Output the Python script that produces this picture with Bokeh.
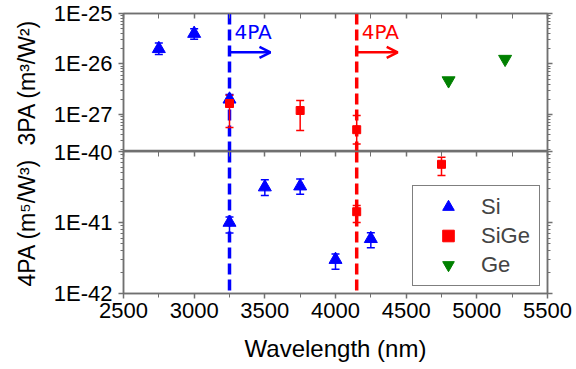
from bokeh.plotting import figure
from bokeh.models import (Range1d, FixedTicker, CustomJSTickFormatter, LinearAxis, LogAxis,
                          Span, Arrow, OpenHead, Label, Whisker, TeeHead, ColumnDataSource,
                          Legend, LegendItem)
from bokeh.layouts import column
from bokeh.embed import file_html
from bokeh.resources import INLINE

# ---------------- data ----------------
si3_wl = [2750, 3000, 3250]
si3_val = [2.0e-26, 4.0e-26, 2.0e-27]
si3_lo = [1.55e-26, 3.1e-26, 1.6e-27]
si3_hi = [2.6e-26, 5.0e-26, 2.5e-27]

sige3_wl = [3250, 3750, 4150]
sige3_val = [1.65e-27, 1.2e-27, 5.0e-28]
sige3_lo = [5.5e-28, 4.8e-28, 2.6e-28]
sige3_hi = [2.4e-27, 1.9e-27, 9.5e-28]

ge3_wl = [4800, 5200]
ge3_val = [4.7e-27, 1.25e-26]

si4_wl = [3250, 3500, 3750, 4000, 4250]
si4_val = [1.0e-41, 3.15e-41, 3.25e-41, 3.0e-42, 5.9e-42]
si4_lo = [7.1e-42, 2.4e-41, 2.5e-41, 2.2e-42, 4.4e-42]
si4_hi = [1.2e-41, 4.0e-41, 4.1e-41, 3.6e-42, 7.2e-42]

sige4_wl = [4150, 4750]
sige4_val = [1.42e-41, 6.6e-41]
sige4_lo = [1.0e-41, 4.6e-41]
sige4_hi = [1.74e-41, 8.3e-41]

legend_labels = ["Si", "SiGe", "Ge"]

threshold_wl = [3250, 4150]
threshold_colors = ["#0000FF", "#FF0000"]
arrow_end_wl = [3540, 4440]
arrow_y = 1.7e-26
label_y = 4.3e-26
label_text = "4PA"

x_major = [2500, 3000, 3500, 4000, 4500, 5000, 5500]
x_minor = [2750, 3250, 3750, 4250, 4750, 5250]
y3_major = [1e-25, 1e-26, 1e-27]
y4_major = [1e-40, 1e-41, 1e-42]
y3_range = (1.85e-28, 1e-25)
y4_range = (1e-42, 1e-40)
x_range = (2500, 5500)

BLUE, RED, GREEN = "#0000FF", "#FF0000", "#008000"
AX = "#707070"
FONT = "Liberation Sans"


def log_minor(majors):
    out = []
    for m in majors:
        for k in range(2, 10):
            out.append(m * k)
    return out


fmt = CustomJSTickFormatter(code="return '1E' + Math.round(Math.log10(tick));")


def style(ax, labels, tin=0, tout=5, min_in=0, min_out=3):
    ax.axis_line_color = AX
    ax.axis_line_width = 1.5
    ax.major_tick_line_color = AX
    ax.minor_tick_line_color = AX
    ax.major_tick_line_width = 1.5
    ax.minor_tick_line_width = 1
    ax.major_tick_in = tin
    ax.major_tick_out = tout
    ax.minor_tick_in = min_in
    ax.minor_tick_out = min_out
    if labels:
        ax.major_label_text_font = FONT
        ax.major_label_text_color = "black"
        ax.axis_label_text_color = "black"
    else:
        ax.formatter = CustomJSTickFormatter(code="return '';")
        ax.major_label_text_font_size = "1px"
        ax.major_label_standoff = 0
        ax.axis_label = None


xr = Range1d(*x_range)

# ---------------- top panel (3PA) ----------------
top = figure(width=576, height=151, x_range=xr, y_range=Range1d(*y3_range),
             y_axis_type="log", x_axis_location=None, output_backend="svg",
             toolbar_location=None, min_border_left=123, min_border_right=29,
             min_border_top=13, min_border_bottom=0)
top.outline_line_color = AX
top.outline_line_width = 1.5
top.grid.visible = False

yl = top.left[0]
yl.ticker = FixedTicker(ticks=y3_major, minor_ticks=log_minor(y3_major + [1e-28]))
yl.formatter = fmt
style(yl, True)
yl.major_label_text_font_size = "22px"
yl.major_label_standoff = 6
yl.axis_label = "3PA (m³/W²)"
yl.axis_label_text_font = FONT
yl.axis_label_text_font_size = "23px"
yl.axis_label_text_font_style = "normal"
yl.axis_label_standoff = 11

yr = LogAxis(ticker=FixedTicker(ticks=y3_major, minor_ticks=log_minor(y3_major + [1e-28])))
style(yr, False)
top.add_layout(yr, "right")

xt = LinearAxis(ticker=FixedTicker(ticks=x_major, minor_ticks=x_minor))
style(xt, False, tin=5, tout=0, min_in=5, min_out=0)
top.add_layout(xt, "above")

# ---------------- bottom panel (4PA) ----------------
bot = figure(width=576, height=230, x_range=xr, y_range=Range1d(*y4_range),
             y_axis_type="log", output_backend="svg", toolbar_location=None,
             min_border_left=123, min_border_right=29, min_border_top=12,
             min_border_bottom=76)
bot.border_fill_color = None
bot.outline_line_color = AX
bot.outline_line_width = 1.5
bot.grid.visible = False
bot.styles = {"margin-top": "-12px"}

yl4 = bot.left[0]
yl4.ticker = FixedTicker(ticks=y4_major, minor_ticks=log_minor(y4_major))
yl4.formatter = fmt
style(yl4, True)
yl4.major_label_text_font_size = "22px"
yl4.major_label_standoff = 6
yl4.axis_label = "4PA (m⁵/W³)"
yl4.axis_label_text_font = FONT
yl4.axis_label_text_font_size = "23px"
yl4.axis_label_text_font_style = "normal"
yl4.axis_label_standoff = 11

xb = bot.below[0]
xb.ticker = FixedTicker(ticks=x_major, minor_ticks=x_minor)
style(xb, True, tin=0, tout=5, min_in=0, min_out=4)
xb.major_label_text_font_size = "22px"
xb.major_label_standoff = 4
xb.axis_label = "Wavelength (nm)"
xb.axis_label_text_font = FONT
xb.axis_label_text_font_size = "24px"
xb.axis_label_text_font_style = "normal"
xb.axis_label_standoff = 14

yr4 = LogAxis(ticker=FixedTicker(ticks=y4_major, minor_ticks=log_minor(y4_major)))
style(yr4, False)
bot.add_layout(yr4, "right")

xa4 = LinearAxis(ticker=FixedTicker(ticks=x_major, minor_ticks=x_minor))
style(xa4, False, tin=5, tout=0, min_in=5, min_out=0)
bot.add_layout(xa4, "above")

# ---------------- threshold lines & annotations ----------------
for p in (top, bot):
    for wl, c in zip(threshold_wl, threshold_colors):
        p.add_layout(Span(location=wl, dimension="height", line_color=c,
                          line_width=3.5, line_dash="11 5", level="underlay"))

for wl, we, c in zip(threshold_wl, arrow_end_wl, threshold_colors):
    top.add_layout(Arrow(end=OpenHead(size=11, line_color=c, line_width=2.5),
                         x_start=wl, y_start=arrow_y, x_end=we, y_end=arrow_y,
                         line_color=c, line_width=2.5))
    top.add_layout(Label(x=wl, y=label_y, x_offset=5, text=label_text, text_color=c,
                         text_font="DejaVu Sans", text_font_size="20px",
                         text_baseline="alphabetic", text_align="left"))


# ---------------- data glyphs ----------------
def add_series(p, wl, val, lo, hi, marker, color, size, visible=True):
    data = dict(x=wl, y=val)
    if lo is not None:
        data["lo"] = lo
        data["hi"] = hi
    src = ColumnDataSource(data=data)
    if lo is not None:
        p.add_layout(Whisker(source=src, base="x", lower="lo", upper="hi",
                             dimension="height", line_color=color, line_width=1.5,
                             level="underlay",
                             upper_head=TeeHead(size=8, line_color=color, line_width=1.5),
                             lower_head=TeeHead(size=8, line_color=color, line_width=1.5)))
    return p.scatter("x", "y", source=src, marker=marker, size=size,
                     fill_color=color, line_color=color, visible=visible)


add_series(top, si3_wl, si3_val, si3_lo, si3_hi, "triangle", BLUE, 13)
add_series(top, sige3_wl, sige3_val, sige3_lo, sige3_hi, "square", RED, 8)
add_series(top, ge3_wl, ge3_val, None, None, "inverted_triangle", GREEN, 13)

r_si = add_series(bot, si4_wl, si4_val, si4_lo, si4_hi, "triangle", BLUE, 13)
r_sige = add_series(bot, sige4_wl, sige4_val, sige4_lo, sige4_hi, "square", RED, 8)
# Ge has no 4PA data: a hidden renderer only supplies the legend swatch
r_ge = add_series(bot, ge3_wl, ge3_val, None, None, "inverted_triangle", GREEN, 13,
                  visible=False)

legend = Legend(items=[LegendItem(label=legend_labels[0], renderers=[r_si]),
                       LegendItem(label=legend_labels[1], renderers=[r_sige]),
                       LegendItem(label=legend_labels[2], renderers=[r_ge])],
                location=(289, 7), padding=6, spacing=0, margin=0,
                glyph_width=58, glyph_height=29, label_height=29, label_width=52,
                label_standoff=4, label_text_font=FONT, label_text_font_size="22px",
                border_line_color="black", border_line_width=1,
                background_fill_color="white", background_fill_alpha=1)
bot.add_layout(legend)

layout = column(top, bot, spacing=0)
open("out.html", "w").write(file_html(layout, INLINE))
